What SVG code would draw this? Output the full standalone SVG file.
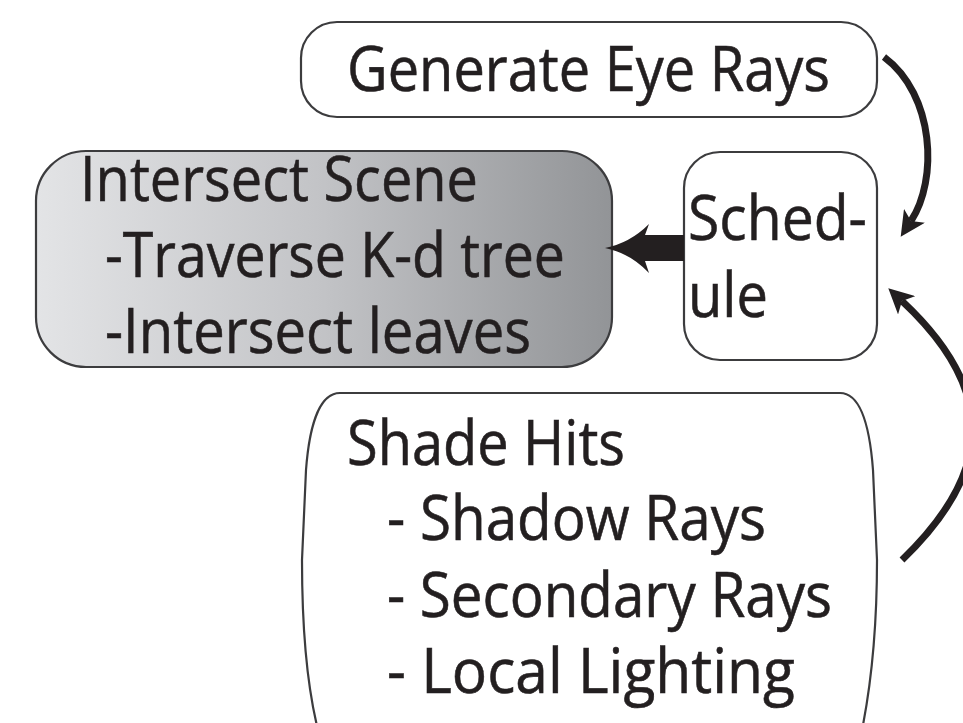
<svg xmlns="http://www.w3.org/2000/svg" width="963" height="723" viewBox="0 0 963 723">
<style>
.box{fill:#ffffff;stroke:#3c3c3e;stroke-width:2.2}
.t{font-family:"Open Sans","Noto Sans","Liberation Sans",sans-serif;font-size:63px;fill:#231f20;stroke:#231f20;stroke-width:0.6}
.conn{fill:none;stroke:#231f20;stroke-width:7}
</style>
<defs>
<linearGradient id="g" x1="0" y1="0" x2="1" y2="0">
<stop offset="0" stop-color="#e3e4e6"/>
<stop offset="0.5" stop-color="#c2c3c6"/>
<stop offset="1" stop-color="#929497"/>
</linearGradient>
<marker id="ah" viewBox="0 0 24 24" refX="6" refY="12" markerWidth="25" markerHeight="25" markerUnits="userSpaceOnUse" orient="auto">
<path d="M0,0 L24,12 L0,24 L6,12 Z" fill="#231f20"/>
</marker>
</defs>
<rect width="963" height="723" fill="#ffffff"/>
<g id="generate">
<rect class="box" x="301" y="22" width="576" height="95" rx="36"/>
<text class="t" x="347" y="91" textLength="483" lengthAdjust="spacingAndGlyphs">Generate Eye Rays</text>
</g>
<g id="intersect">
<rect x="36" y="151" width="576" height="216" rx="50" fill="url(#g)" stroke="#3c3c3e" stroke-width="2.2"/>
<text class="t" x="80" y="201" textLength="398" lengthAdjust="spacingAndGlyphs">Intersect Scene</text>
<text class="t" x="105" y="277" textLength="460" lengthAdjust="spacingAndGlyphs">-Traverse K-d tree</text>
<text class="t" x="105" y="353" textLength="426" lengthAdjust="spacingAndGlyphs">-Intersect leaves</text>
</g>
<g id="schedule">
<rect class="box" x="684" y="152" width="193" height="208" rx="36"/>
<text class="t" x="688" y="240" textLength="179" lengthAdjust="spacingAndGlyphs">Sched-</text>
<text class="t" x="688" y="317" textLength="80" lengthAdjust="spacingAndGlyphs">ule</text>
</g>
<g id="shade">
<path class="box" d="M340,393 H840 C862,393 870,430 873,470 L877,560 C877,640 870,690 862,730 L318,730 C308,690 302,640 302,560 L306,470 C309,430 318,393 340,393 Z"/>
<text class="t" x="347" y="465" textLength="278" lengthAdjust="spacingAndGlyphs">Shade Hits</text>
<text class="t" x="387" y="540" textLength="379" lengthAdjust="spacingAndGlyphs">- Shadow Rays</text>
<text class="t" x="387" y="617" textLength="445" lengthAdjust="spacingAndGlyphs">- Secondary Rays</text>
<text class="t" x="387" y="693" textLength="408" lengthAdjust="spacingAndGlyphs">- Local Lighting</text>
</g>
<g id="connectors">
<path class="conn" d="M884,57 C935,95 938,180 911,221" marker-end="url(#ah)"/>
<path class="conn" d="M902,560 C985,480 1006,398 902,301" marker-end="url(#ah)"/>
<path d="M605,248 Q630,243 649,224 L645,235 L684,235 L684,261 L645,261 L649,273 Q630,253 605,248 Z" fill="#231f20"/>
</g>
</svg>
